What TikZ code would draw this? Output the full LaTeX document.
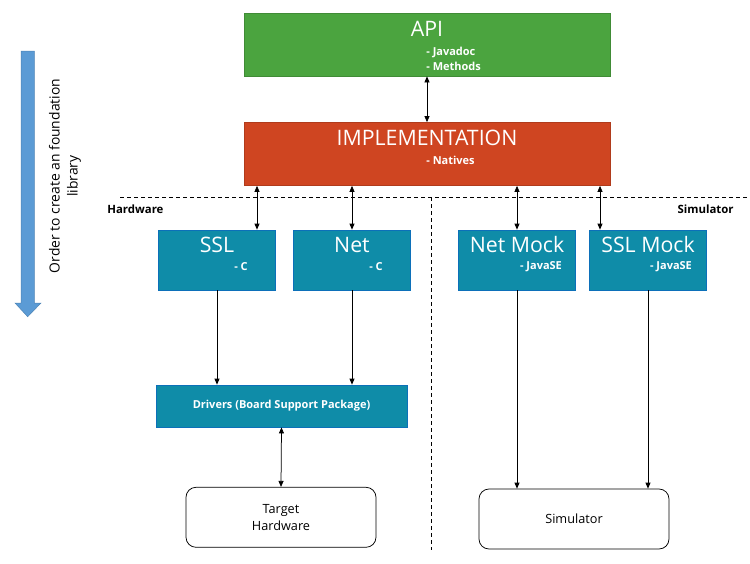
\documentclass[tikz,border=0pt]{standalone}
\usepackage{fontspec}
\setmainfont{Open Sans}
\usetikzlibrary{arrows.meta,positioning}

\definecolor{apigreen}{HTML}{4BA43F}
\definecolor{implred}{HTML}{CF4521}
\definecolor{libteal}{HTML}{0F8CA8}
\definecolor{orderblue}{HTML}{5B9BD5}

\begin{document}
\begin{tikzpicture}[x=1pt,y=-1pt,>={Triangle[length=6pt,width=5pt]},line width=0.75pt]
	\tikzset{layer/.style={draw=#1!85!black,fill=#1,minimum width=366pt,minimum height=63pt,inner sep=0pt}}
	\tikzset{lib/.style={draw=libteal!80!blue,fill=libteal,minimum width=117pt,minimum height=60pt,inner sep=0pt}}
	\tikzset{title/.style={text=white,inner sep=0pt,font=\fontsize{21.3}{25}\selectfont}}
	\tikzset{sub/.style={text=white,inner sep=0pt,align=left,font=\bfseries\fontsize{11}{15.7}\selectfont}}
	\tikzset{hw/.style={draw,rounded corners=10pt,minimum width=190pt,minimum height=60pt,align=center,font=\fontsize{12.7}{16.5}\selectfont}}
	\tikzset{side/.style={inner sep=0pt,font=\bfseries\fontsize{11.4}{14}\selectfont}}
	\useasboundingbox (0,0) rectangle (750,563);

	% order arrow on the left
	\fill[orderblue,draw=orderblue!85!black,line width=0.5pt] (21,51) -- (34.3,51) -- (34.3,303) -- (41,303) -- (27.7,316.7) -- (15,303) -- (21,303) -- cycle;
	\node[rotate=90,align=center,font=\fontsize{13.9}{18}\selectfont] (order) at (65,176) {Order to create an foundation\\library};

	% layers
	\node[layer=apigreen] (api) at (427,44.5) {};
	\node[title] (api-t) at (427,29) {API};
	\node[sub,anchor=west] (api-s) at (426,59) {- Javadoc\\- Methods};
	\node[layer=implred] (impl) at (427,154) {};
	\node[title] (impl-t) at (427,137.5) {IMPLEMENTATION};
	\node[sub,anchor=west] (impl-s) at (426,160) {- Natives};

	% hardware / simulator split
	\coordinate (split-w) at (120,197);
	\coordinate (split-e) at (750,197);
	\coordinate (split-n) at (431,197);
	\coordinate (split-s) at (431,550);
	\draw[dashed,line width=0.6pt,dash pattern=on 4pt off 3pt] (split-w) -- (split-e);
	\draw[dashed,line width=0.6pt,dash pattern=on 4pt off 3pt] (split-n) -- (split-s);
	\node[side,anchor=west] (hw-lbl) at (107,209) {Hardware};
	\node[side,anchor=east] (sim-lbl) at (734,209) {Simulator};

	% libraries
	\node[lib] (ssl) at (217,260) {};
	\node[title] (ssl-t) at (217,245) {SSL};
	\node[sub] (ssl-s) at (241,267) {- C};
	\node[lib] (net) at (352,260) {};
	\node[title] (net-t) at (352,245) {Net};
	\node[sub] (net-s) at (376,267) {- C};
	\node[lib] (netm) at (517,260) {};
	\node[title] (netm-t) at (517,245) {Net Mock};
	\node[sub] (netm-s) at (541,267) {- JavaSE};
	\node[lib] (sslm) at (648,260) {};
	\node[title] (sslm-t) at (648,245) {SSL Mock};
	\node[sub] (sslm-s) at (671,267) {- JavaSE};

	% bottom
	\node[lib,minimum width=251pt,minimum height=42pt] (drv) at (281.5,406) {};
	\node[sub] (drv-t) at (281.5,406) {Drivers (Board Support Package)};
	\node[hw] (target) at (281,517.3) {Target\\Hardware};
	\node[hw] (sim) at (574,519) {Simulator};

	% connectors
	\draw[<->] (api.south) -- (impl.north);
	\draw[<->] ([xshift=40pt]ssl.north) -- ([xshift=40pt]ssl.north |- impl.south);
	\draw[<->] (net.north) -- (net.north |- impl.south);
	\draw[<->] (netm.north) -- (netm.north |- impl.south);
	\draw[<->] ([xshift=-48pt]sslm.north) -- ([xshift=-48pt]sslm.north |- impl.south);
	\draw[->] (ssl.south) -- (ssl.south |- drv.north);
	\draw[->] (net.south) -- (net.south |- drv.north);
	\draw[<->] (drv.south) -- (target.north);
	\draw[->] (netm.south) -- (netm.south |- sim.north);
	\draw[->] (sslm.south) -- (sslm.south |- sim.north);
\end{tikzpicture}
\end{document}
